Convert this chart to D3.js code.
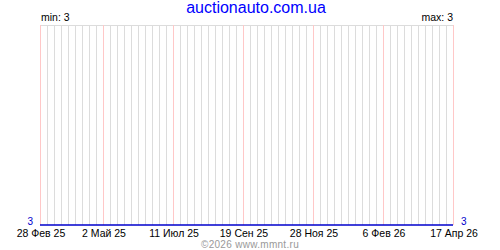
<!DOCTYPE html>
<html>
<head>
<meta charset="utf-8">
<script src="https://cdn.jsdelivr.net/npm/d3@7"></script>
<style>
  body { margin: 0; background: #fff; }
  svg { display: block; }
  text { font-family: "Liberation Sans", Arial, sans-serif; }
</style>
</head>
<body>
<div id="chart"></div>
<script>
// values: the count stays at 3 over the whole period
var pointDates = ["2025-02-28", "2025-05-02", "2025-07-11", "2025-09-19", "2025-11-28", "2026-02-06", "2026-04-17"]
var pointValues = [3, 3, 3, 3, 3, 3, 3]

// major ticks and their labels
var tickDates = ["2025-02-28", "2025-05-02", "2025-07-11", "2025-09-19", "2025-11-28", "2026-02-06", "2026-04-17"]
var tickLabels = ["28 Фев 25", "2 Май 25", "11 Июл 25", "19 Сен 25", "28 Ноя 25", "6 Фев 26", "17 Апр 26"]

var title = "auctionauto.com.ua"
var credit = "©2026 www.mmnt.ru"

var margin = { left: 40, right: 47, top: 25, bottom: 25 }
var width = 500 - margin.left - margin.right
var height = 250 - margin.top - margin.bottom

var parse = d3.utcParse("%Y-%m-%d")
var data = pointDates.map((d, i) => ({ date: parse(d), value: pointValues[i] }))

var svg = d3.select("#chart")
    .append("svg")
    .attr("width", 500)
    .attr("height", 250)

var g = svg.append("g")
    .attr("transform", "translate(" + margin.left + ", " + margin.top + ")")

var x = d3.scaleUtc()
    .domain([parse(tickDates[0]), parse(tickDates[tickDates.length - 1])])
    .range([0, width])

var minV = d3.min(pointValues), maxV = d3.max(pointValues)
var y = d3.scaleLinear()
    .domain([minV, maxV > minV ? maxV : minV + 1])
    .range([height, 0])

// weekly grid lines
var weeks = d3.utcFriday.range(x.domain()[0], d3.utcDay.offset(x.domain()[1], 1))
g.selectAll(".week")
    .data(weeks)
    .enter().append("line")
    .attr("class", "week")
    .attr("x1", d => Math.round(x(d)) + 0.5)
    .attr("x2", d => Math.round(x(d)) + 0.5)
    .attr("y1", 0)
    .attr("y2", height)
    .attr("stroke", "#dcdcdc")

// top border
g.append("line")
    .attr("x1", 0).attr("x2", width + 1)
    .attr("y1", 0.5).attr("y2", 0.5)
    .attr("stroke", "#dcdcdc")

// major grid lines (pink)
g.selectAll(".major")
    .data(tickDates.map(parse))
    .enter().append("line")
    .attr("class", "major")
    .attr("x1", d => Math.round(x(d)) + 0.5)
    .attr("x2", d => Math.round(x(d)) + 0.5)
    .attr("y1", 0)
    .attr("y2", height)
    .attr("stroke", "#ffc8c8")

// x labels
g.selectAll(".xlabel")
    .data(tickDates.map(parse))
    .enter().append("text")
    .attr("class", "xlabel")
    .attr("x", d => x(d) + 1)
    .attr("y", height + 12)
    .attr("font-size", "10.5px")
    .attr("text-anchor", "middle")
    .attr("fill", "#000")
    .text((d, i) => tickLabels[i])

// the line
var line = d3.line()
    .x(d => x(d.date))
    .y(d => y(d.value))
g.append("path")
    .datum(data)
    .attr("fill", "none")
    .attr("stroke", "#0000cc")
    .attr("stroke-width", 1.6)
    .attr("d", line)

// value labels at both ends
g.append("text")
    .attr("x", -7)
    .attr("y", y(data[0].value))
    .attr("font-size", "10px")
    .attr("text-anchor", "end")
    .attr("fill", "#0000cc")
    .text(data[0].value)
g.append("text")
    .attr("x", width + 8)
    .attr("y", y(data[data.length - 1].value))
    .attr("font-size", "10px")
    .attr("text-anchor", "start")
    .attr("fill", "#0000cc")
    .text(data[data.length - 1].value)

// min / max
g.append("text")
    .attr("x", 1)
    .attr("y", -4)
    .attr("font-size", "10.5px")
    .attr("fill", "#000")
    .text("min: " + minV)
g.append("text")
    .attr("x", width)
    .attr("y", -4)
    .attr("font-size", "10.5px")
    .attr("text-anchor", "end")
    .attr("fill", "#000")
    .text("max: " + maxV)

// title
svg.append("text")
    .attr("x", 256)
    .attr("y", 13)
    .attr("font-size", "16px")
    .attr("text-anchor", "middle")
    .attr("fill", "#0000ff")
    .text(title)

// credit
svg.append("text")
    .attr("x", 250)
    .attr("y", 248)
    .attr("font-size", "10px")
    .attr("text-anchor", "middle")
    .attr("fill", "#999")
    .style("letter-spacing", "0.3px")
    .text(credit)
</script>
</body>
</html>
